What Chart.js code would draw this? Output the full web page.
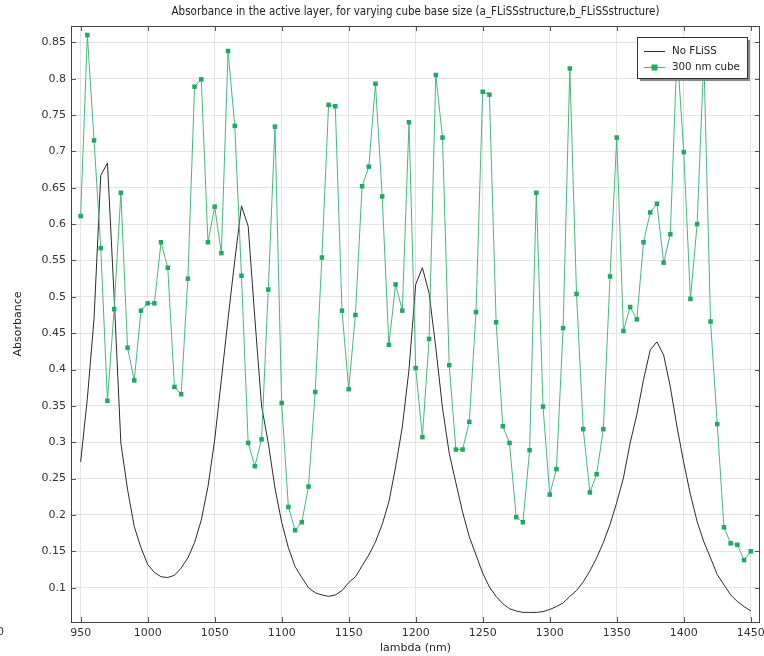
<!DOCTYPE html>
<html>
<head>
<meta charset="utf-8">
<script src="https://cdn.jsdelivr.net/npm/chart.js@4"></script>
<style>
  html, body { margin: 0; padding: 0; background: #fff; }
  #wrap { width: 764px; height: 656px; }
</style>
</head>
<body>
<div id="wrap"><canvas id="myChart" width="764" height="656"></canvas></div>
<script>
// wavelength (nm)
const lambdaNm = [950, 955, 960, 965, 970, 975, 980, 985, 990, 995,
  1000, 1005, 1010, 1015, 1020, 1025, 1030, 1035, 1040, 1045,
  1050, 1055, 1060, 1065, 1070, 1075, 1080, 1085, 1090, 1095,
  1100, 1105, 1110, 1115, 1120, 1125, 1130, 1135, 1140, 1145,
  1150, 1155, 1160, 1165, 1170, 1175, 1180, 1185, 1190, 1195,
  1200, 1205, 1210, 1215, 1220, 1225, 1230, 1235, 1240, 1245,
  1250, 1255, 1260, 1265, 1270, 1275, 1280, 1285, 1290, 1295,
  1300, 1305, 1310, 1315, 1320, 1325, 1330, 1335, 1340, 1345,
  1350, 1355, 1360, 1365, 1370, 1375, 1380, 1385, 1390, 1395,
  1400, 1405, 1410, 1415, 1420, 1425, 1430, 1435, 1440, 1445, 1450];

// absorbance without the structure
const noFliss = [0.273, 0.36, 0.47, 0.667, 0.684, 0.5, 0.299, 0.235, 0.184, 0.155,
  0.132, 0.121, 0.115, 0.114, 0.117, 0.127, 0.141, 0.162, 0.193, 0.239,
  0.303, 0.386, 0.47, 0.55, 0.625, 0.597, 0.47, 0.35, 0.299, 0.237,
  0.19, 0.155, 0.129, 0.114, 0.1, 0.093, 0.09, 0.088, 0.09, 0.096,
  0.107, 0.115, 0.13, 0.145, 0.163, 0.187, 0.218, 0.266, 0.321, 0.4,
  0.517, 0.54, 0.505, 0.43, 0.347, 0.285, 0.244, 0.204, 0.17, 0.145,
  0.12, 0.101, 0.088, 0.078, 0.071, 0.068, 0.066, 0.066, 0.066, 0.067,
  0.07, 0.074, 0.079, 0.088, 0.096, 0.108, 0.123, 0.141, 0.162, 0.187,
  0.217, 0.251, 0.299, 0.338, 0.386, 0.427, 0.438, 0.42, 0.376, 0.321,
  0.272, 0.228, 0.191, 0.163, 0.141, 0.118, 0.104, 0.09, 0.081, 0.074, 0.068];

// absorbance with 300 nm cubes
const cube300 = [0.611, 0.86, 0.715, 0.567, 0.357, 0.483, 0.643, 0.43, 0.385, 0.481,
  0.491, 0.491, 0.575, 0.54, 0.376, 0.366, 0.525, 0.789, 0.799, 0.575,
  0.624, 0.56, 0.838, 0.735, 0.529, 0.299, 0.267, 0.304, 0.51, 0.734,
  0.354, 0.211, 0.179, 0.19, 0.239, 0.369, 0.554, 0.764, 0.762, 0.481,
  0.373, 0.475, 0.652, 0.679, 0.793, 0.638, 0.434, 0.517, 0.481, 0.74,
  0.402, 0.307, 0.442, 0.805, 0.719, 0.406, 0.29, 0.29, 0.328, 0.479,
  0.782, 0.778, 0.465, 0.322, 0.299, 0.197, 0.19, 0.289, 0.643, 0.349,
  0.228, 0.263, 0.457, 0.814, 0.504, 0.318, 0.231, 0.256, 0.318, 0.528,
  0.719, 0.453, 0.486, 0.469, 0.575, 0.616, 0.628, 0.547, 0.586, 0.84,
  0.699, 0.497, 0.6, 0.83, 0.466, 0.325, 0.183, 0.161, 0.159, 0.138, 0.15];

const seriesNames = ['No FLiSS', '300 nm cube'];
const titleText = 'Absorbance in the active layer, for varying cube base size (a_FLiSSstructure,b_FLiSSstructure)';

const toPoints = ys => lambdaNm.map((x, i) => ({ x: x, y: ys[i] }));
const tickFmt = v => String(Math.round(v * 1000) / 1000);

const FONT = 'DejaVu Sans';
const GREEN = 'rgb(34, 168, 100)';

// frame, inward ticks, title and legend box
const decor = {
  id: 'decor',
  afterDraw(chart) {
    const c = chart.ctx, a = chart.chartArea;
    const xs = chart.scales.x, ys = chart.scales.y;
    c.save();
    c.strokeStyle = '#555';
    c.lineWidth = 1;
    c.beginPath();
    xs.ticks.forEach(t => {
      const px = Math.round(xs.getPixelForValue(t.value)) + 0.5;
      c.moveTo(px, a.top); c.lineTo(px, a.top + 5);
      c.moveTo(px, a.bottom); c.lineTo(px, a.bottom - 5);
    });
    ys.ticks.forEach(t => {
      const py = Math.round(ys.getPixelForValue(t.value)) + 0.5;
      c.moveTo(a.left, py); c.lineTo(a.left + 5, py);
      c.moveTo(a.right, py); c.lineTo(a.right - 5, py);
    });
    c.stroke();
    c.strokeStyle = '#444';
    c.strokeRect(Math.round(a.left) + 0.5, Math.round(a.top) + 0.5,
      Math.round(a.right - a.left) - 1, Math.round(a.bottom - a.top));

    // title centred on the plot
    c.fillStyle = '#222';
    c.font = '11.5px "DejaVu Sans Condensed", "Liberation Sans", sans-serif';
    c.textAlign = 'center';
    c.textBaseline = 'middle';
    c.fillText(titleText, (a.left + a.right) / 2, 12);

    // clipped label at lower left
    c.font = '11px ' + FONT;
    c.textAlign = 'left';
    c.fillStyle = '#333';
    c.fillText('0', -3, 632);

    // legend
    const bx = 637, by = 37, bw = 110, bh = 41;
    c.fillStyle = '#888';
    c.fillRect(bx + 3, by + 3, bw, bh);
    c.fillStyle = '#fff';
    c.fillRect(bx, by, bw, bh);
    c.strokeStyle = '#333';
    c.strokeRect(bx + 0.5, by + 0.5, bw, bh);
    const ds = chart.data.datasets;
    const rows = [51, 67];
    ds.forEach((d, i) => {
      const y = rows[i];
      c.strokeStyle = d.borderColor;
      c.lineWidth = 1;
      c.beginPath();
      c.moveTo(644, y + 0.5); c.lineTo(665, y + 0.5);
      c.stroke();
      if (d.pointRadius > 0) {
        c.fillStyle = d.pointBackgroundColor;
        c.fillRect(651.5, y - 2.5, 6, 6);
      }
      c.fillStyle = '#222';
      c.font = '10.3px ' + FONT;
      c.textAlign = 'left';
      c.fillText(d.label, 672, y + 0.5);
    });
    c.restore();
  }
};

const ctx = document.getElementById('myChart').getContext('2d');
const myChart = new Chart(ctx, {
  type: 'line',
  data: {
    datasets: [{
      label: seriesNames[0],
      data: toPoints(noFliss),
      borderColor: '#2a2a2a',
      borderWidth: 1,
      pointRadius: 0,
      tension: 0,
      order: 1
    }, {
      label: seriesNames[1],
      data: toPoints(cube300),
      borderColor: 'rgba(60, 180, 120, 0.95)',
      borderWidth: 1,
      pointStyle: 'rect',
      pointRadius: 3.2,
      pointBackgroundColor: GREEN,
      pointBorderColor: GREEN,
      pointBorderWidth: 0,
      tension: 0,
      order: 0
    }]
  },
  options: {
    responsive: false,
    animation: false,
    events: [],
    layout: { padding: { top: 26, right: 3, left: 0, bottom: 0 } },
    plugins: {
      legend: { display: false },
      title: { display: false },
      tooltip: { enabled: false }
    },
    scales: {
      x: {
        type: 'linear',
        min: 942.8,
        max: 1456.9,
        afterFit: s => { s.height = 34; s.paddingLeft = 0; s.paddingRight = 0; },
        grid: { color: '#e3e3e3', drawTicks: false },
        border: { display: false },
        ticks: {
          stepSize: 50,
          includeBounds: false,
          padding: 5,
          color: '#333',
          font: { family: FONT, size: 11 },
          callback: v => String(v),
          maxRotation: 0
        },
        title: {
          display: true,
          text: 'lambda (nm)',
          color: '#222',
          font: { family: FONT, size: 11 },
          padding: { top: 0, bottom: 1 }
        }
      },
      y: {
        min: 0.0528,
        max: 0.8724,
        afterFit: s => { s.width = 71; s.paddingTop = 0; s.paddingBottom = 0; },
        grid: { color: '#e3e3e3', drawTicks: false },
        border: { display: false },
        ticks: {
          stepSize: 0.05,
          includeBounds: false,
          padding: 5,
          color: '#333',
          font: { family: FONT, size: 11 },
          callback: tickFmt
        },
        title: {
          display: true,
          text: 'Absorbance',
          color: '#222',
          font: { family: FONT, size: 11 },
          padding: { top: 12, bottom: 0 }
        }
      }
    }
  },
  plugins: [decor]
});
</script>
</body>
</html>
